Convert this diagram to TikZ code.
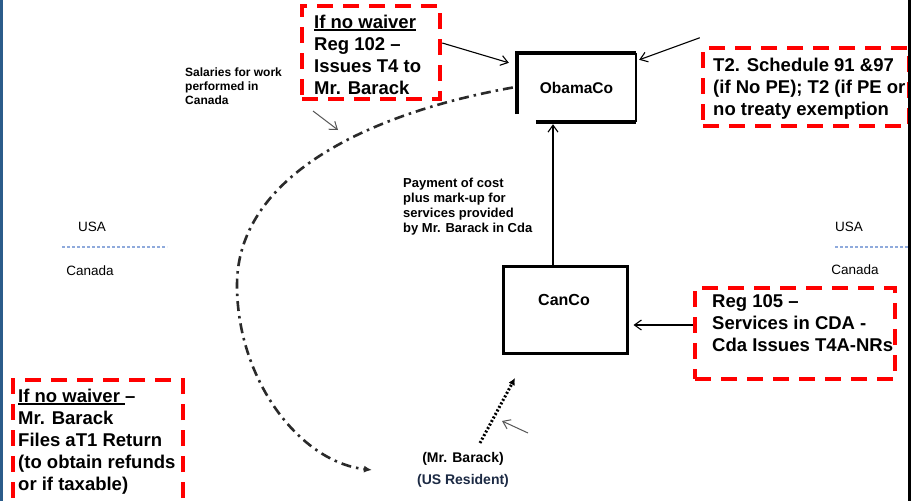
\documentclass[tikz,border=0pt]{standalone}
\usepackage{fontspec}
\setmainfont{Liberation Sans}
\usetikzlibrary{arrows.meta}
\definecolor{boxred}{HTML}{FF0000}
\definecolor{edgeblue}{HTML}{2B5C8A}
\definecolor{lineblue}{HTML}{8FAADC}
\definecolor{navytext}{HTML}{1C2A44}
\definecolor{curvegray}{HTML}{2A2A2A}
\definecolor{pointgray}{HTML}{555555}
\newlength\myullen
\newcommand{\myul}[1]{\settowidth{\myullen}{#1}\rlap{\rule[-2.6pt]{\myullen}{1.8pt}}#1}
\begin{document}
\begin{tikzpicture}[x=1pt,y=-1pt,
  redbox/.style={draw=boxred, line width=4.5pt, dash pattern=on 16pt off 10pt, inner sep=0pt},
  bigtext/.style={font=\bfseries\fontsize{18.5}{22}\selectfont, align=left, anchor=north west, inner sep=0pt},
  smalltext/.style={font=\bfseries\fontsize{13}{15}\selectfont, align=left, anchor=north west, inner sep=0pt},
  tinytext/.style={font=\bfseries\fontsize{12}{14}\selectfont, align=left, anchor=north west, inner sep=0pt},
  countrytext/.style={font=\fontsize{13.5}{16}\selectfont, inner sep=0pt},
  thinarrow/.style={line width=1.1pt, -{Straight Barb[length=7pt,width=10pt]}},
  grayarrow/.style={draw=pointgray, line width=1pt, -{Straight Barb[length=7pt,width=10pt]}},
  dashdotline/.style={draw=curvegray, line width=2.6pt, dash pattern=on 10pt off 5pt on 2.5pt off 5pt},
  borderline/.style={draw=lineblue, line width=1.2pt, dash pattern=on 3pt off 2pt}
]
\useasboundingbox (0,0) rectangle (912,501);
\fill[white] (0,0) rectangle (912,501);

% page edges
\draw[edgeblue, line width=3pt] (1.5,0) -- (1.5,501);

% country borders
\draw[borderline] (62,247) -- (167,247);
\draw[borderline] (835,247) -- (908,247);
\node[countrytext] (usaL) at (92,227) {USA};
\node[countrytext] (canL) at (90,271) {Canada};
\node[countrytext] (usaR) at (849,227) {USA};
\node[countrytext] (canR) at (855,270) {Canada};

% red dashed boxes
\node[redbox, minimum width=138pt, minimum height=93pt] (reg102) at (371,52.5) {};
\node[redbox, minimum width=206pt, minimum height=78pt] (t2) at (806,87) {};
\node[redbox, minimum width=200pt, minimum height=91pt] (reg105) at (795,333.5) {};
\node[redbox, minimum width=170pt, minimum height=130pt] (waiver) at (98,445) {};

\node[bigtext] (reg102txt) at (314,14.5) {\myul{If no waiver}\\Reg 102 –\\Issues T4 to\\Mr. Barack};
\node[bigtext] (t2txt) at (713,57.5) {T2. Schedule 91 \&97\\(if No PE); T2 (if PE or\\no treaty exemption};
\node[bigtext] (reg105txt) at (712,294.5) {Reg 105 –\\Services in CDA -\\Cda Issues T4A-NRs};
\node[bigtext] (waivertxt) at (18,388.5) {\myul{If no waiver\ }–\\Mr. Barack\\Files aT1 Return\\(to obtain refunds\\or if taxable)};

% companies
\node[minimum width=119pt, minimum height=69pt, inner sep=0pt, font=\bfseries\fontsize{15.5}{18}\selectfont] (obamaco) at (576.5,87.5) {ObamaCo};
\draw[line width=4pt] ([yshift=8pt]obamaco.south west) -- (obamaco.north west) -- (obamaco.north east);
\draw[line width=1.5pt] (obamaco.north east) -- (obamaco.south east);
\draw[line width=4pt] ([xshift=19pt]obamaco.south west) -- (obamaco.south east);

\node[draw, line width=3pt, minimum width=124pt, minimum height=87pt, inner sep=0pt] (canco) at (565,309.5) {};
\node[font=\bfseries\fontsize{16}{19}\selectfont, inner sep=0pt] (cancotxt) at (564,300) {CanCo};

% other texts
\node[smalltext] (payment) at (403,177.6) {Payment of cost\\plus mark-up for\\services provided\\by Mr. Barack in Cda};
\node[tinytext] (salaries) at (185,67.4) {Salaries for work\\performed in\\Canada};
\node[font=\bfseries\fontsize{14}{16}\selectfont, inner sep=0pt] (barack) at (463,459) {(Mr. Barack)};
\node[font=\bfseries\fontsize{14}{16}\selectfont, text=navytext, inner sep=0pt] (resident) at (463,481) {(US Resident)};

% connectors
\draw[thinarrow] ([yshift=9.5pt]reg102.east) -- ([xshift=-8pt,yshift=-10pt]obamaco.north west);
\draw[thinarrow] ([xshift=-1pt,yshift=8pt]t2.north west) -- ([xshift=3pt,yshift=-7pt]obamaco.north east);
\draw[thinarrow] ([yshift=8.5pt]reg105.west) -- ([xshift=5pt,yshift=-15.5pt]canco.east);
\draw[thinarrow] ([xshift=-12pt]canco.north) -- ([xshift=-23.5pt,yshift=-2pt]obamaco.south);

\coordinate (curveend) at (372,470);
\draw[dashdotline, -{Latex[length=8pt,width=7pt]}] ([xshift=-4pt]obamaco.west) .. controls (360,115) and (237,180) .. (237,285) .. controls (237,380) and (300,462) .. (curveend);

\coordinate (dotstart) at (480,443);
\coordinate (dotend) at (515,378);
\draw[line width=3pt, dash pattern=on 2pt off 2pt, -{Latex[length=7pt,width=7pt]}] (dotstart) -- (dotend);

\coordinate (ptAstart) at (528,433);
\coordinate (ptAend) at (502,421);
\draw[grayarrow] (ptAstart) -- (ptAend);
\coordinate (ptBstart) at (313,111);
\coordinate (ptBend) at (338,130);
\draw[grayarrow] (ptBstart) -- (ptBend);

% right edge
\draw[black, line width=3.5pt] (909.5,0) -- (909.5,501);
\end{tikzpicture}
\end{document}
